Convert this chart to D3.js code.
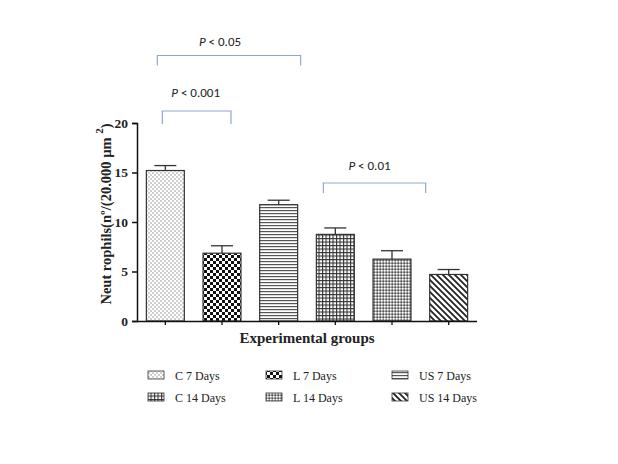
<!DOCTYPE html>
<html><head><meta charset="utf-8">
<script src="https://cdn.jsdelivr.net/npm/d3@7"></script>
<style>body{margin:0;background:#fff}svg{display:block}</style>
</head><body>
<script>
const categories = ["C 7 Days","L 7 Days","US 7 Days","C 14 Days","L 14 Days","US 14 Days"];
const means = [15.2, 6.85, 11.75, 8.75, 6.25, 4.7];
const errors = [0.5, 0.75, 0.45, 0.65, 0.85, 0.5];
const yTicks = [0,5,10,15,20];
const sigLabels = ["P < 0.05","P < 0.001","P < 0.01"];
const sigPairs = [[0,2],[0,1],[3,5]];

// layout/styling for brackets (pixels)
const sigLevels = [55.5, 111, 183];
const sigOffsets = [[-8,22],[-3,9],[-12,-23]];
const sigLegs = [10,13,10];
const sigTextShift = [-9,-1,-5];
const sigTextY = [46,97,170];

const W=618,H=464;
const svg=d3.select("body").append("svg").attr("width",W).attr("height",H);
const defs=svg.append("defs");
const serif="'Liberation Serif','Times New Roman',serif";
const sans="'Carlito','Liberation Sans',Arial,sans-serif";

function pat(id,w,h,draw){const p=defs.append("pattern").attr("id",id).attr("patternUnits","userSpaceOnUse").attr("width",w).attr("height",h);p.append("rect").attr("width",w).attr("height",h).attr("fill","#fff");draw(p);return "url(#"+id+")";}
const fills=[
 pat("p0",4,4,p=>{p.append("rect").attr("x",0).attr("y",0).attr("width",2).attr("height",2).attr("fill","#cfcfcf");p.append("rect").attr("x",2).attr("y",2).attr("width",2).attr("height",2).attr("fill","#cfcfcf");}),
 pat("p1",6,6,p=>{p.append("rect").attr("x",0).attr("y",0).attr("width",3).attr("height",3).attr("fill","#111");p.append("rect").attr("x",3).attr("y",3).attr("width",3).attr("height",3).attr("fill","#111");}),
 pat("p2",4,3,p=>{p.append("rect").attr("x",0).attr("y",0).attr("width",4).attr("height",1.2).attr("fill","#555");}),
 pat("p3",3.5,3.5,p=>{p.append("rect").attr("x",0).attr("y",0).attr("width",3.5).attr("height",1.1).attr("fill","#333");p.append("rect").attr("x",0).attr("y",0).attr("width",1.1).attr("height",3.5).attr("fill","#333");}),
 pat("p4",3,3,p=>{p.append("rect").attr("width",3).attr("height",3).attr("fill","#a8a8a8");p.append("rect").attr("x",0).attr("y",0).attr("width",1.5).attr("height",1.5).attr("fill","#fff");p.append("rect").attr("x",1.5).attr("y",1.5).attr("width",1.5).attr("height",1.5).attr("fill","#555");}),
 pat("p5",6,6,p=>{p.append("path").attr("d","M0,0L6,6M-3,3L3,9M3,-3L9,3").attr("stroke","#222").attr("stroke-width",1.8);})
];

const x=d3.scaleBand().domain(categories).range([137,477]).paddingInner(0.33).paddingOuter(0.165);
const y=d3.scaleLinear().domain([0,20]).range([321,123]);
const cxOf=i=>x(categories[i])+x.bandwidth()/2;

const g=svg.append("g");
categories.forEach((c,i)=>{
  const cx=cxOf(i);
  g.append("line").attr("x1",cx).attr("x2",cx).attr("y1",y(means[i])).attr("y2",y(means[i]+errors[i])).attr("stroke","#333").attr("stroke-width",1.3);
  g.append("line").attr("x1",cx-11).attr("x2",cx+11).attr("y1",y(means[i]+errors[i])).attr("y2",y(means[i]+errors[i])).attr("stroke","#333").attr("stroke-width",1.3);
});
g.selectAll("rect.bar").data(categories).join("rect").attr("class","bar")
 .attr("x",d=>x(d)).attr("width",x.bandwidth())
 .attr("y",(d,i)=>y(means[i])).attr("height",(d,i)=>y(0)-y(means[i]))
 .attr("fill",(d,i)=>fills[i]).attr("stroke","#333").attr("stroke-width",1.2);

const ya=svg.append("g").attr("transform","translate(137,0)").call(d3.axisLeft(y).tickValues(yTicks).tickSize(5).tickPadding(4));
ya.select(".domain").attr("stroke","#111").attr("stroke-width",1.5);
ya.selectAll(".tick line").attr("stroke","#111").attr("stroke-width",1.5);
ya.selectAll("text").attr("font-family",serif).attr("font-weight","bold").attr("font-size",13.5).attr("fill","#222");

const xa=svg.append("g").attr("transform","translate(0,321)").call(d3.axisBottom(x).tickSize(4).tickFormat(""));
xa.select(".domain").attr("stroke","#111").attr("stroke-width",1.5).attr("d","M137,0.5H477");
xa.selectAll(".tick line").attr("stroke","#111").attr("stroke-width",1.3);

svg.append("text").attr("x",307).attr("y",343).attr("text-anchor","middle").attr("font-family",serif).attr("font-weight","bold").attr("font-size",15).attr("fill","#222").text("Experimental groups");

const yl=svg.append("text").attr("transform","translate(111,214) rotate(-90)").attr("text-anchor","middle").attr("font-family",serif).attr("font-weight","bold").attr("font-size",14.5).attr("fill","#222");
yl.append("tspan").text("Neut rophils(nº/(20.000 µm ");
yl.append("tspan").attr("dy",-8).attr("font-size",11).text("2");
yl.append("tspan").attr("dy",8).text(")");

sigPairs.forEach((pr,i)=>{
  const x1=cxOf(pr[0])+sigOffsets[i][0], x2=cxOf(pr[1])+sigOffsets[i][1];
  const ly=sigLevels[i], leg=sigLegs[i];
  svg.append("path").attr("d",`M${x1},${ly+leg}V${ly}H${x2}V${ly+leg}`).attr("fill","none").attr("stroke","#8fa9cc").attr("stroke-width",1.2);
  const t=svg.append("text").attr("x",(x1+x2)/2+sigTextShift[i]).attr("y",sigTextY[i]).attr("text-anchor","middle").attr("font-family",sans).attr("font-size",13).attr("fill","#222");
  const parts=sigLabels[i].split(" ");
  t.append("tspan").attr("font-style","italic").text(parts[0]);
  t.append("tspan").text(" "+parts.slice(1).join(" "));
});

const legX=[148,266,392], legY=[375,397];
categories.forEach((c,i)=>{
  const col=i%3,row=Math.floor(i/3);
  svg.append("rect").attr("x",legX[col]).attr("y",legY[row]-4).attr("width",16).attr("height",8).attr("fill",fills[i]).attr("stroke","#333").attr("stroke-width",0.8);
  svg.append("text").attr("x",legX[col]+27).attr("y",legY[row]+4.5).attr("font-family",serif).attr("font-size",12).attr("fill","#222").text(c);
});
</script>
</body></html>
